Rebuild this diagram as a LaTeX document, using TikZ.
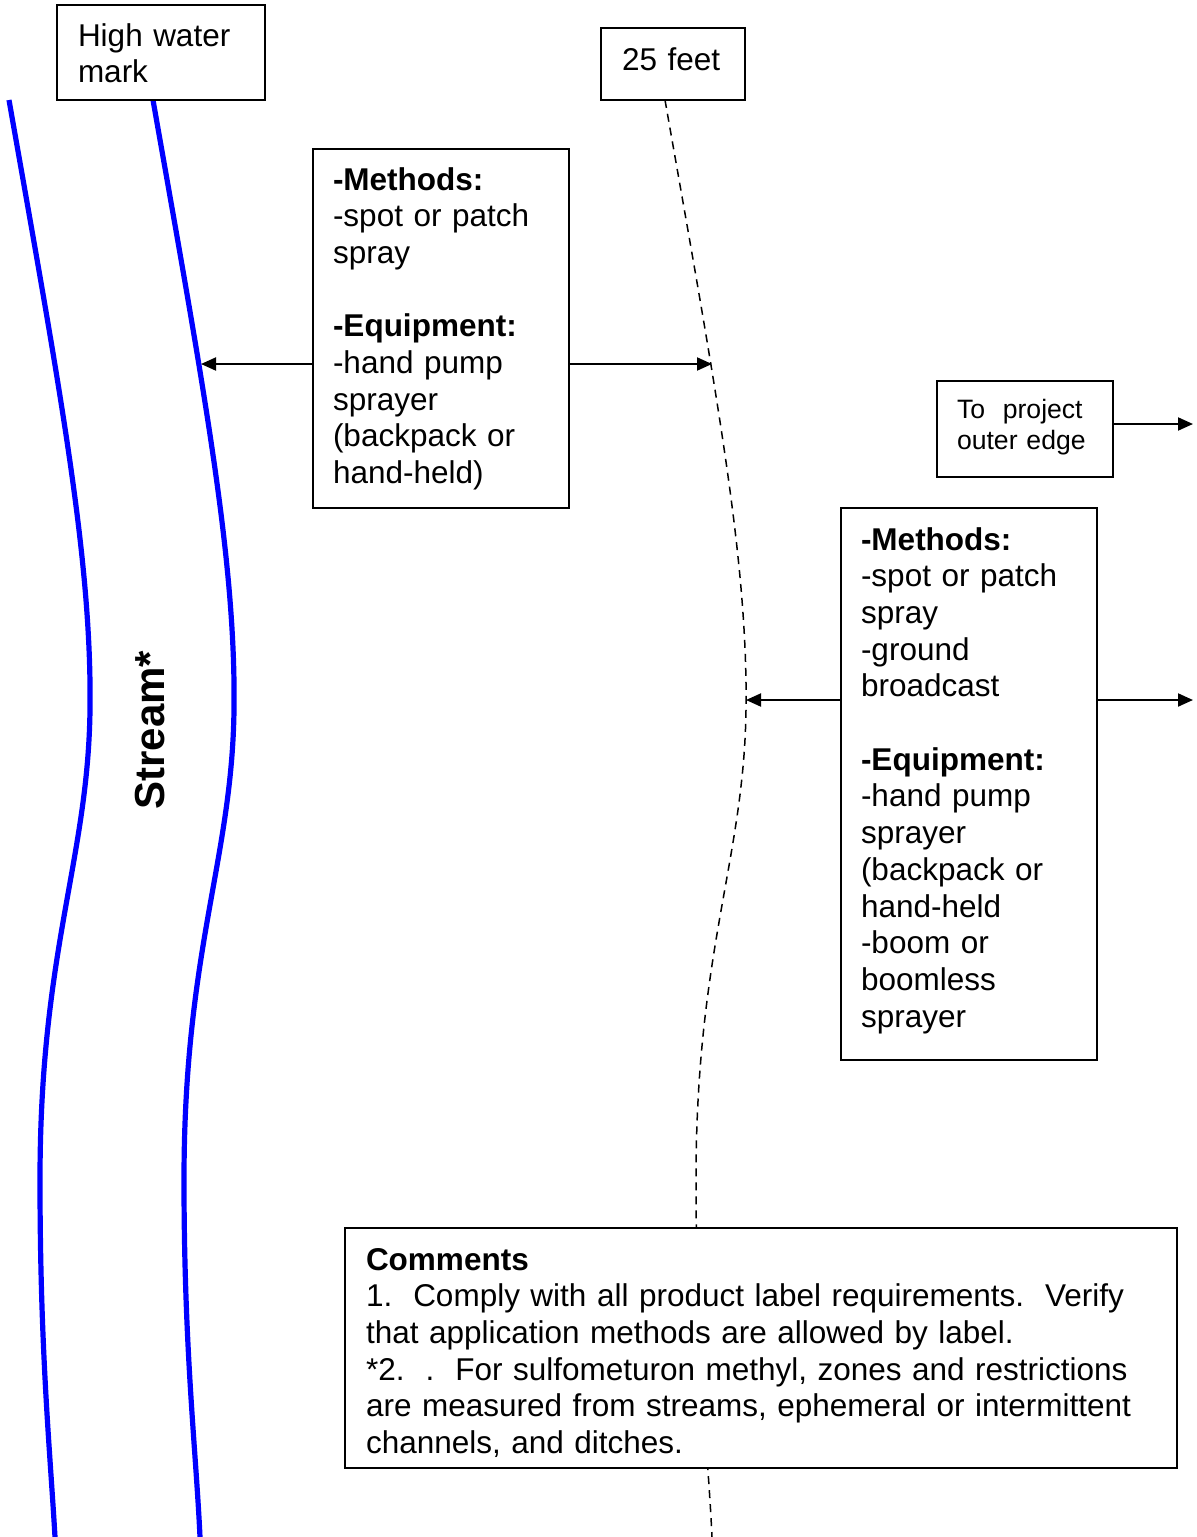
\documentclass[tikz,border=0pt]{standalone}
\usepackage{fontspec}
\setmainfont{Liberation Sans}
\usetikzlibrary{arrows.meta}
\begin{document}
\begin{tikzpicture}[x=0.5pt,y=-0.5pt,
  box/.style={draw, line width=1pt, fill=white, inner sep=0pt, outer sep=0pt, anchor=north west},
  txt/.style={inner sep=0pt, outer sep=0pt, anchor=base west, align=left,
    font=\fontsize{15.75}{18.35}\selectfont, text width=#1},
  txt/.default=125pt,
  smalltxt/.style={inner sep=0pt, outer sep=0pt, anchor=base west, align=left,
    font=\fontsize{13.3}{15.5}\selectfont, text width=85pt},
  stream/.style={draw=blue, line width=2.6pt},
  zone/.style={draw=black, line width=0.75pt, dash pattern=on 4pt off 3pt},
  arr/.style={draw=black, line width=1pt, -{Triangle[length=7.5pt,width=6.5pt]}}
]
\useasboundingbox (0,0) rectangle (1196,1537);

% stream banks
\draw[stream] (9,100) .. controls (60,390) and (92,560) .. (90,710)
  .. controls (88,860) and (40,950) .. (40,1180)
  .. controls (40,1350) and (50,1450) .. (55,1537);
\draw[stream] (153,100) .. controls (204,390) and (236,560) .. (234,710)
  .. controls (232,860) and (184,950) .. (184,1180)
  .. controls (184,1350) and (196,1450) .. (200,1537);

% 25 feet line
\draw[zone] (665,100) .. controls (716,390) and (748,560) .. (746,710)
  .. controls (744,860) and (696,950) .. (696,1180)
  .. controls (696,1350) and (708,1450) .. (712,1537);

% boxes
\node[box, minimum width=104pt, minimum height=47.5pt] (hw) at (57,5) {};
\node[txt] (hwt) at (78,46) {High water\\ mark};

\node[box, minimum width=72pt, minimum height=36pt] (ft) at (601,28) {};
\node[txt=70pt] (ftt) at (622,70) {25 feet};

\node[box, minimum width=128pt, minimum height=179.5pt] (m1) at (313,149) {};
\node[txt] (m1t) at (333,190) {\textbf{-Methods:}\\ -spot or patch\\ spray\\ \mbox{}\\ \textbf{-Equipment:}\\ -hand pump\\ sprayer\\ (backpack or\\ hand-held)};

\node[box, minimum width=88pt, minimum height=48pt] (tp) at (937,381) {};
\node[smalltxt] (tpt) at (957,418) {To\ \ project\\ outer edge};

\node[box, minimum width=128pt, minimum height=276pt] (m2) at (841,508) {};
\node[txt] (m2t) at (861,550) {\textbf{-Methods:}\\ -spot or patch\\ spray\\ -ground\\ broadcast\\ \mbox{}\\ \textbf{-Equipment:}\\ -hand pump\\ sprayer\\ (backpack or\\ hand-held\\ -boom or\\ boomless\\ sprayer};

\node[box, minimum width=416pt, minimum height=120pt] (cm) at (345,1228) {};
\node[txt=405pt] (cmt) at (366,1270) {\textbf{Comments}\\
1.\ \ Comply with all product label requirements.\ \ Verify\\
that application methods are allowed by label.\\
{*}2.\ \ .\ \ For sulfometuron methyl, zones and restrictions\\
are measured from streams, ephemeral or intermittent\\
channels, and ditches.};

% stream label
\node[font=\fontsize{21}{25}\selectfont\bfseries, rotate=90, inner sep=0pt] (st) at (150,730) {Stream*};

% arrow end points
\coordinate (hw1) at (201,364);
\coordinate (d1) at (712,364);
\coordinate (d2) at (746,700);
\coordinate (e1) at (1193,424);
\coordinate (e2) at (1193,700);

\draw[arr] (m1.west |- hw1) -- (hw1);
\draw[arr] (m1.east |- d1) -- (d1);
\draw[arr] (m2.west |- d2) -- (d2);
\draw[arr] (m2.east |- e2) -- (e2);
\draw[arr] (tp.east |- e1) -- (e1);
\end{tikzpicture}
\end{document}
